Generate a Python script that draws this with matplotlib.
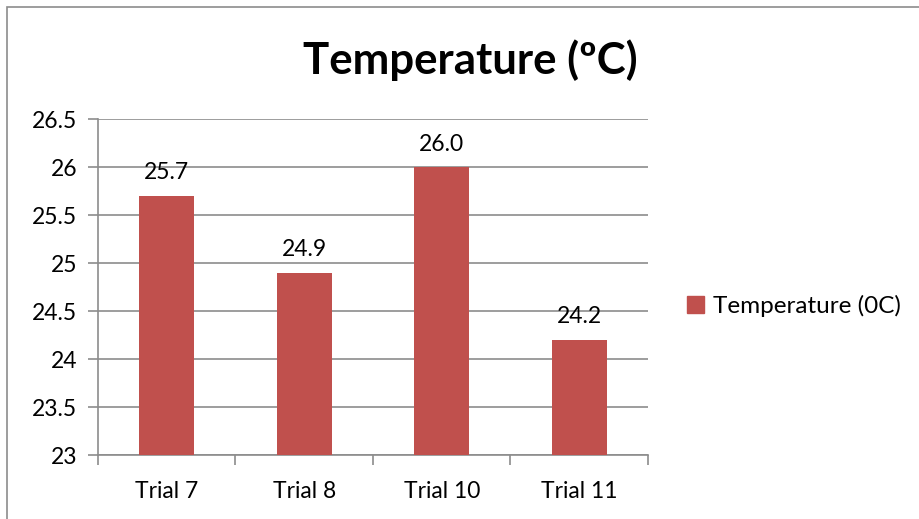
import matplotlib
matplotlib.use("Agg")
import matplotlib.pyplot as plt
from matplotlib.patches import Rectangle
import numpy as np

categories = ["Trial 7", "Trial 8", "Trial 10", "Trial 11"]
temperatures = [25.7, 24.9, 26.0, 24.2]
y_ticks = [23, 23.5, 24, 24.5, 25, 25.5, 26, 26.5]
y_tick_labels = ["23", "23.5", "24", "24.5", "25", "25.5", "26", "26.5"]
series_name = "Temperature (0C)"

plt.rcParams["font.family"] = ["Lato", "DejaVu Sans"]

bar_color = "#C0504D"
grid_color = "#8C8C8C"

fig = plt.figure(figsize=(9.2, 5.19), dpi=100)
fig.patches.append(Rectangle((7 / 920, -0.01), 1.0, 1 - 7 / 519 + 0.01,
                             transform=fig.transFigure, fill=False,
                             edgecolor="#8C8C8C", linewidth=1.2))

ax = fig.add_axes([98 / 920, 1 - 455 / 519, 550 / 920, 336 / 519])

x = np.arange(len(categories))
ax.bar(x, temperatures, width=0.4, color=bar_color, zorder=3)

for xi, v in zip(x, temperatures):
    ax.text(xi, v + 0.13, f"{v:.1f}", ha="center", va="bottom",
            fontsize=16.5, color="black", zorder=4)

ax.set_xlim(-0.5, len(categories) - 0.5)
ax.set_ylim(23, 26.5)
ax.set_yticks(y_ticks)
ax.set_yticklabels(y_tick_labels, fontsize=16.5)
ax.set_xticks(x)
ax.set_xticklabels(categories, fontsize=16.5)
ax.set_xticks(np.arange(-0.5, len(categories)), minor=True)

ax.tick_params(axis="x", which="major", length=0, pad=19)
ax.tick_params(axis="x", which="minor", length=7, width=1.2, color=grid_color)
ax.tick_params(axis="y", which="major", length=7, width=1.2, color=grid_color, pad=8)

ax.yaxis.grid(True, color=grid_color, linewidth=1.2, zorder=0)
ax.set_axisbelow(True)
for side in ("top", "right"):
    ax.spines[side].set_visible(False)
for side in ("left", "bottom"):
    ax.spines[side].set_color(grid_color)
    ax.spines[side].set_linewidth(1.2)

fig.text(470 / 920, 1 - 60 / 519, "Temperature (ºC)", ha="center", va="center",
         fontsize=31.5, fontweight="bold", color="black")

handle = Rectangle((0, 0), 1, 1, color=bar_color)
fig.legend([handle], [series_name], loc="center left",
           bbox_to_anchor=(680 / 920, 1 - 306 / 519), frameon=False,
           fontsize=17.5, handlelength=0.7, handleheight=0.7, handletextpad=0.35,
           borderaxespad=0, borderpad=0.3)

fig.savefig("out.png", dpi=100)
